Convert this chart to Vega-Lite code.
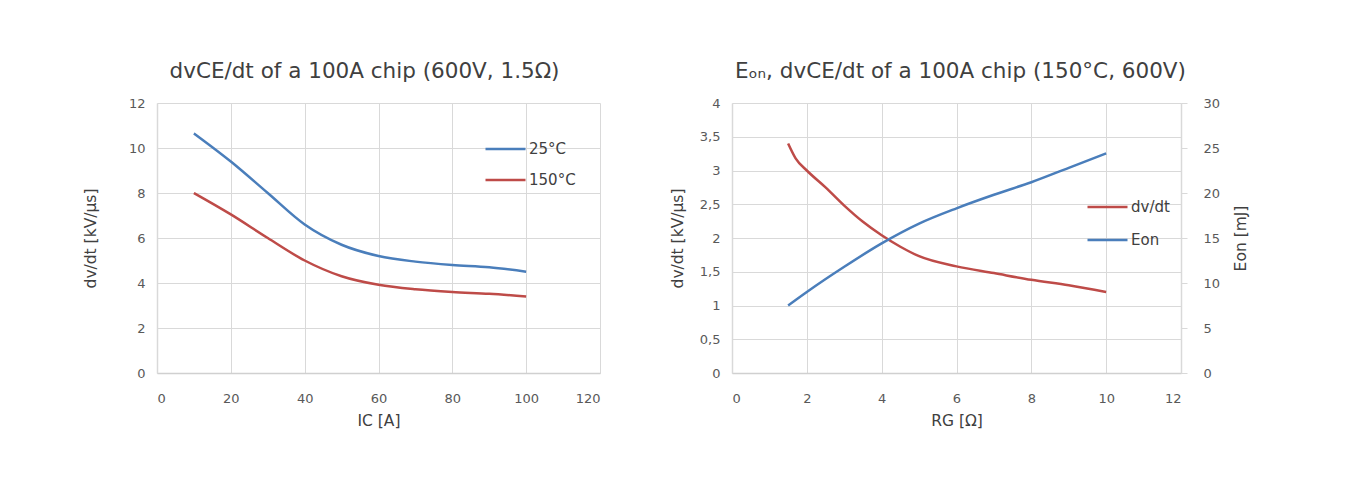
{
  "$schema": "https://vega.github.io/schema/vega-lite/v6.json",
  "background": "white",
  "padding": {"left": 83, "top": 60, "right": 10, "bottom": 10},
  "config": {
    "font": "DejaVu Sans",
    "view": {"stroke": null},
    "axis": {
      "labelFont": "DejaVu Sans", "labelFontSize": 13, "labelColor": "#595959",
      "titleFont": "DejaVu Sans", "titleFontSize": 15.5, "titleColor": "#404040", "titleFontWeight": "normal",
      "gridColor": "#d9d9d9", "gridWidth": 1, "domainColor": "#d9d9d9", "domainWidth": 1.5, "ticks": false
    },
    "title": {"font": "DejaVu Sans", "fontSize": 21.5, "fontWeight": "normal", "color": "#404040"},
    "legend": {"labelFont": "DejaVu Sans", "labelFontSize": 15, "labelColor": "#404040", "symbolType": "stroke", "symbolSize": 1600, "symbolStrokeWidth": 2.5, "clipHeight": 18, "rowPadding": 13, "labelOffset": 2},
    "concat": {"spacing": 70}
  },
  "resolve": {"scale": {"color": "independent"}, "legend": {"color": "independent"}},
  "hconcat": [
    {
      "title": {"text": "dvCE/dt of a 100A chip (600V, 1.5Ω)", "dx": -14, "offset": 15},
      "width": 443, "height": 270,
      "data": {"values": [
        {"Ic": 10, "dvdt": 10.65, "T": "25°C"},
        {"Ic": 20, "dvdt": 9.4, "T": "25°C"},
        {"Ic": 30, "dvdt": 8.0, "T": "25°C"},
        {"Ic": 40, "dvdt": 6.6, "T": "25°C"},
        {"Ic": 50, "dvdt": 5.7, "T": "25°C"},
        {"Ic": 60, "dvdt": 5.2, "T": "25°C"},
        {"Ic": 70, "dvdt": 4.95, "T": "25°C"},
        {"Ic": 80, "dvdt": 4.8, "T": "25°C"},
        {"Ic": 90, "dvdt": 4.7, "T": "25°C"},
        {"Ic": 100, "dvdt": 4.5, "T": "25°C"},
        {"Ic": 10, "dvdt": 8.0, "T": "150°C"},
        {"Ic": 20, "dvdt": 7.05, "T": "150°C"},
        {"Ic": 30, "dvdt": 6.0, "T": "150°C"},
        {"Ic": 40, "dvdt": 5.0, "T": "150°C"},
        {"Ic": 50, "dvdt": 4.3, "T": "150°C"},
        {"Ic": 60, "dvdt": 3.92, "T": "150°C"},
        {"Ic": 70, "dvdt": 3.72, "T": "150°C"},
        {"Ic": 80, "dvdt": 3.6, "T": "150°C"},
        {"Ic": 90, "dvdt": 3.52, "T": "150°C"},
        {"Ic": 100, "dvdt": 3.4, "T": "150°C"}
      ]},
      "mark": {"type": "line", "interpolate": "monotone", "strokeWidth": 2.5},
      "encoding": {
        "x": {"field": "Ic", "type": "quantitative", "scale": {"domain": [0, 120], "nice": false},
              "axis": {"values": [0, 20, 40, 60, 80, 100, 120], "title": "IC [A]", "labelPadding": 19, "titlePadding": 8, "domainColor": "#d0d0d0"}},
        "y": {"field": "dvdt", "type": "quantitative", "scale": {"domain": [0, 12], "nice": false},
              "axis": {"values": [0, 2, 4, 6, 8, 10, 12], "title": "dv/dt [kV/µs]", "labelPadding": 12, "titlePadding": 30}},
        "color": {"field": "T", "type": "nominal", "sort": ["25°C", "150°C"],
                  "scale": {"domain": ["25°C", "150°C"], "range": ["#4a7ebb", "#be4b48"]},
                  "legend": {"title": null, "orient": "none", "legendX": 327, "legendY": 37}}
      }
    },
    {
      "title": {"text": "Eₒₙ, dvCE/dt of a 100A chip (150°C, 600V)", "dx": 4, "offset": 15},
      "width": 449, "height": 270,
      "layer": [
        {
          "data": {"values": [
            {"Rg": 1.5, "v": 3.4, "s": "dv/dt"},
            {"Rg": 1.7, "v": 3.18, "s": "dv/dt"},
            {"Rg": 2.0, "v": 3.0, "s": "dv/dt"},
            {"Rg": 2.5, "v": 2.75, "s": "dv/dt"},
            {"Rg": 3.0, "v": 2.48, "s": "dv/dt"},
            {"Rg": 3.5, "v": 2.24, "s": "dv/dt"},
            {"Rg": 4.0, "v": 2.04, "s": "dv/dt"},
            {"Rg": 4.5, "v": 1.87, "s": "dv/dt"},
            {"Rg": 5.0, "v": 1.73, "s": "dv/dt"},
            {"Rg": 6.0, "v": 1.58, "s": "dv/dt"},
            {"Rg": 7.0, "v": 1.48, "s": "dv/dt"},
            {"Rg": 8.0, "v": 1.38, "s": "dv/dt"},
            {"Rg": 9.0, "v": 1.3, "s": "dv/dt"},
            {"Rg": 10.0, "v": 1.2, "s": "dv/dt"}
          ]},
          "mark": {"type": "line", "interpolate": "monotone", "strokeWidth": 2.5},
          "encoding": {
            "x": {"field": "Rg", "type": "quantitative", "scale": {"domain": [0, 12], "nice": false},
                  "axis": {"values": [0, 2, 4, 6, 8, 10, 12], "title": "RG [Ω]", "labelPadding": 19, "titlePadding": 8, "domainColor": "#d0d0d0"}},
            "y": {"field": "v", "type": "quantitative", "scale": {"domain": [0, 4], "nice": false},
                  "axis": {"values": [0, 0.5, 1, 1.5, 2, 2.5, 3, 3.5, 4], "labelExpr": "replace(format(datum.value, '~g'), '.', ',')", "title": "dv/dt [kV/µs]", "labelPadding": 12, "titlePadding": 14}},
            "color": {"field": "s", "type": "nominal",
                      "scale": {"domain": ["dv/dt", "Eon"], "range": ["#be4b48", "#4a7ebb"]},
                      "legend": {"title": null, "orient": "none", "legendX": 354, "legendY": 95, "rowPadding": 15}}
          }
        },
        {
          "data": {"values": [
            {"Rg": 1.5, "e": 7.5, "s": "Eon"},
            {"Rg": 2.0, "e": 9.0, "s": "Eon"},
            {"Rg": 3.0, "e": 11.8, "s": "Eon"},
            {"Rg": 4.0, "e": 14.4, "s": "Eon"},
            {"Rg": 5.0, "e": 16.6, "s": "Eon"},
            {"Rg": 6.0, "e": 18.3, "s": "Eon"},
            {"Rg": 7.0, "e": 19.8, "s": "Eon"},
            {"Rg": 8.0, "e": 21.2, "s": "Eon"},
            {"Rg": 9.0, "e": 22.8, "s": "Eon"},
            {"Rg": 10.0, "e": 24.4, "s": "Eon"}
          ]},
          "mark": {"type": "line", "interpolate": "monotone", "strokeWidth": 2.5},
          "encoding": {
            "x": {"field": "Rg", "type": "quantitative", "scale": {"domain": [0, 12], "nice": false}},
            "y": {"field": "e", "type": "quantitative", "scale": {"domain": [0, 30], "nice": false},
                  "axis": {"orient": "right", "values": [0, 5, 10, 15, 20, 25, 30], "title": "Eon [mJ]", "titleAngle": 270, "grid": false, "ticks": true, "tickSize": 6, "tickColor": "#d9d9d9", "domain": true, "labelPadding": 16, "titlePadding": 29}},
            "color": {"field": "s", "type": "nominal",
                      "scale": {"domain": ["dv/dt", "Eon"], "range": ["#be4b48", "#4a7ebb"]}}
          }
        }
      ],
      "resolve": {"scale": {"y": "independent"}}
    }
  ]
}
